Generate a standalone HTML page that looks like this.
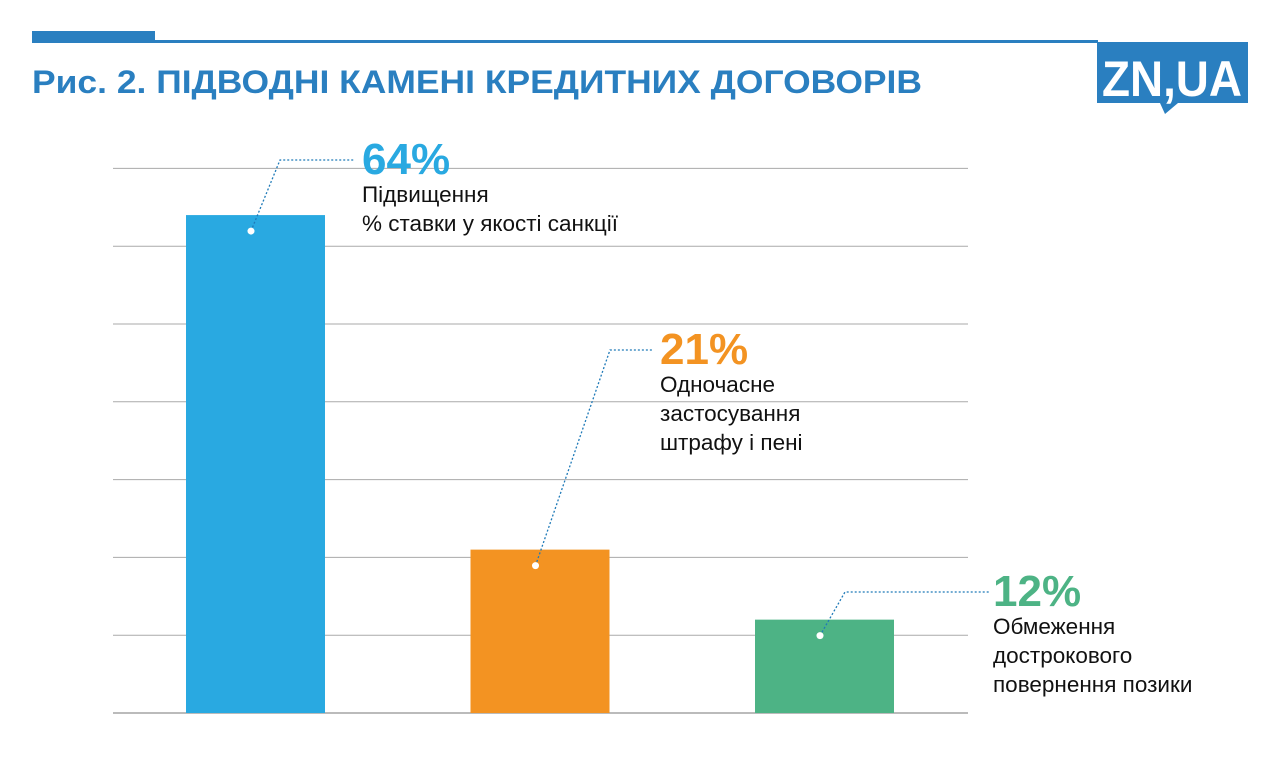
<!DOCTYPE html>
<html><head><meta charset="utf-8"><style>
body{margin:0;background:#fff;}
svg{display:block;font-family:"Liberation Sans","DejaVu Sans",sans-serif;}
</style></head><body>
<svg id="chart" width="1280" height="760">
<rect x="32" y="31" width="123" height="12" fill="#2a7fc0"/>
<rect x="155" y="40" width="943" height="3" fill="#2a7fc0"/>
<text x="32" y="93" font-size="32" font-weight="bold" fill="#2a7fc0" textLength="890" lengthAdjust="spacingAndGlyphs">Рис. 2. ПІДВОДНІ КАМЕНІ КРЕДИТНИХ ДОГОВОРІВ</text>
<g>
<path d="M1097 42 H1248 V103 H1178 L1165 114 L1160 103 H1097 Z" fill="#2a7fc0"/>
<text x="1172" y="96" font-size="50" font-weight="bold" fill="#fff" text-anchor="middle" textLength="140" lengthAdjust="spacingAndGlyphs">ZN,UA</text>
</g>
<g id="grid"></g><g id="bars"></g><g id="notes"></g>
</svg>
<script>
const categories=["Підвищення|% ставки у якості санкції","Одночасне|застосування|штрафу і пені","Обмеження|дострокового|повернення позики"];
const values=[64,21,12];
const labels=["64%","21%","12%"];
const colors=["#29a9e1","#f39322","#4db385"];
const gridTicks=[0,10,20,30,40,50,60,70];
const NS="http://www.w3.org/2000/svg";
const base=713,pxPer=7.78,barW=139;
const y=v=>base-v*pxPer;
const x=i=>186+i*284.5;
// annotation layout (pixel positions, not data)
const noteBendX=[280,610,845], noteY=[160,350,592], noteEndX=[355,652,990], noteTextX=[362,660,993];
function el(t,a,p){const e=document.createElementNS(NS,t);for(const k in a)e.setAttribute(k,a[k]);p.appendChild(e);return e;}
const g=document.getElementById('grid'),b=document.getElementById('bars'),n=document.getElementById('notes');
gridTicks.forEach(t=>{const l=el('line',{x1:113,x2:968,y1:y(t),y2:y(t),stroke:t===0?'#777':'#aaa','stroke-width':1},g);

});
values.forEach((v,i)=>{
const r=el('rect',{x:x(i),y:y(v),width:barW,height:base-y(v),fill:colors[i]},b);


const dx=x(i)+65,dy=y(v)+16;
const hy=noteY[i],hx=noteBendX[i],tx=noteEndX[i];
const p=el('polyline',{points:`${dx},${dy} ${hx},${hy} ${tx},${hy}`,fill:'none',stroke:'#1f7ab8','stroke-width':1.3,'stroke-dasharray':'2 2'},n);


const c=el('circle',{cx:dx,cy:dy,r:3.5,fill:'#fff'},n);


const lx=noteTextX[i];
const pt=el('text',{x:lx,y:hy+14,'font-size':44,'font-weight':'bold',fill:colors[i]},n);
pt.textContent=labels[i];


categories[i].split('|').forEach((s,j)=>{
const t=el('text',{x:lx,y:hy+42+j*29,'font-size':22.5,fill:'#111'},n);
t.textContent=s;

});
});
</script>
</body></html>
